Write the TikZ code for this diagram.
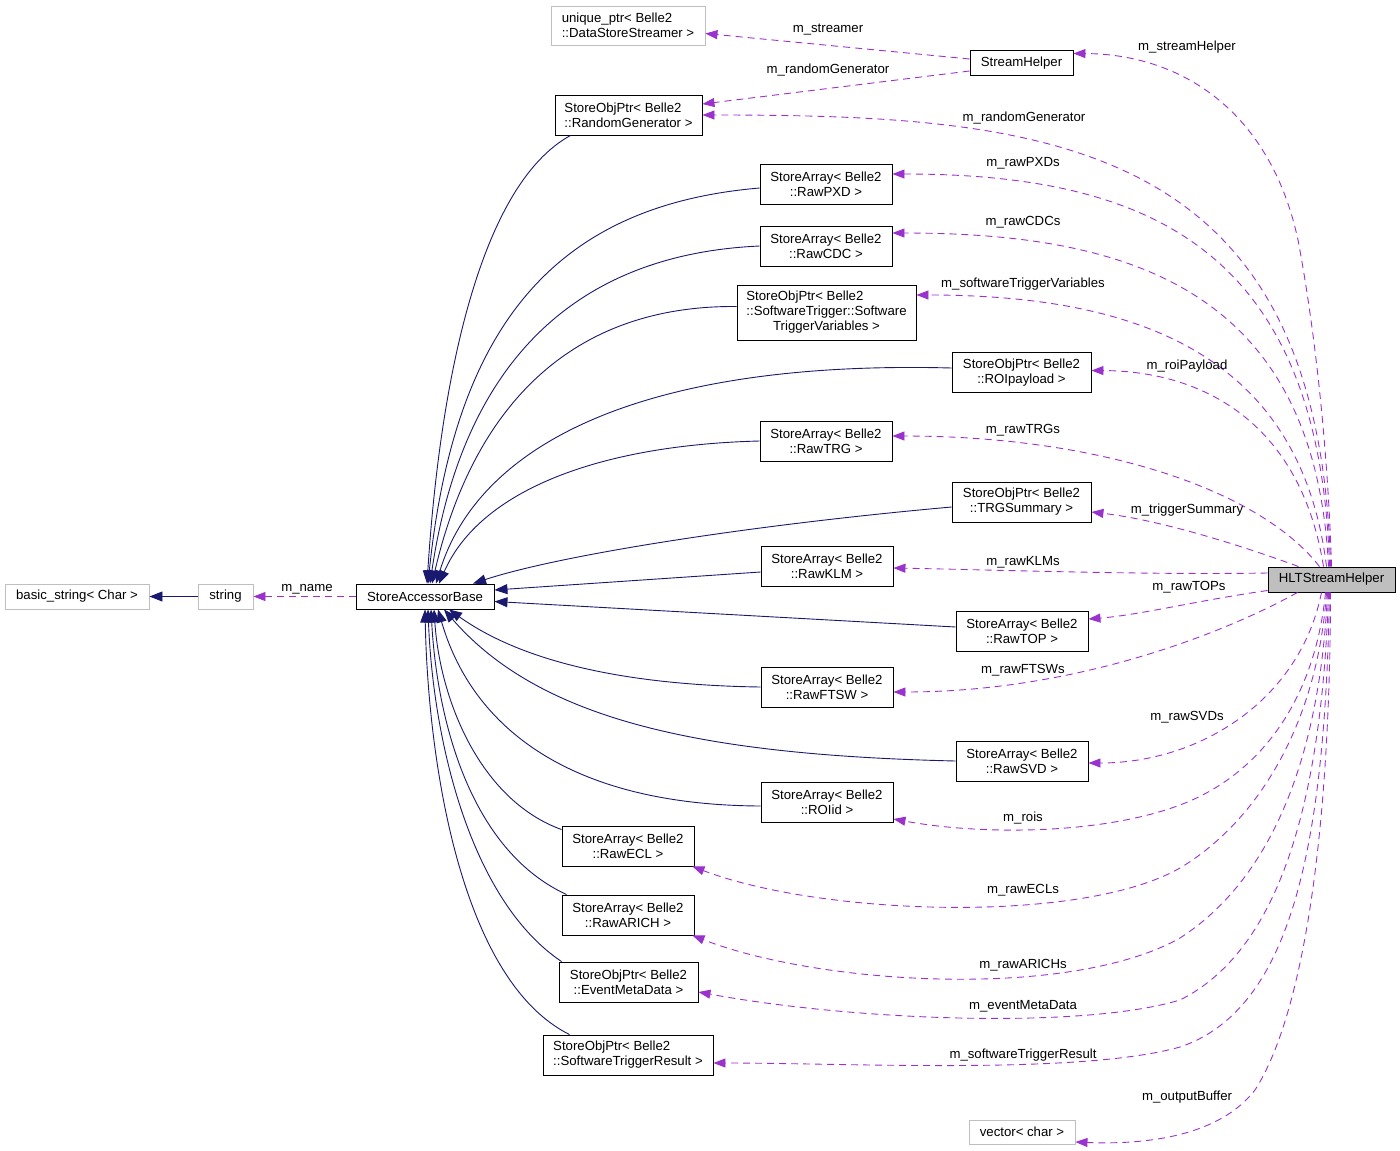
\documentclass[tikz,border=0pt]{standalone}
\usepackage{fontspec}
\setmainfont{Liberation Sans}
\usetikzlibrary{arrows.meta}
\definecolor{inhc}{HTML}{191970}
\definecolor{usec}{HTML}{9A32CD}
\definecolor{extc}{HTML}{BFBFBF}
\begin{document}
\begin{tikzpicture}[x=1pt,y=-1pt,
  font=\fontsize{13.2}{15}\selectfont,
  cls/.style={draw=black, line width=0.9pt, fill=white, inner sep=0pt, align=center},
  clsl/.style={cls, align=left},
  ext/.style={cls, draw=extc},
  extl/.style={ext, align=left},
  mainc/.style={cls, fill=extc},
  inh/.style={draw=inhc, line width=0.9pt, -{Triangle[length=13pt,width=10pt]}},
  usage/.style={draw=usec, line width=0.9pt, dash pattern=on 7pt off 5pt, -{Triangle[length=12pt,width=9pt]}},
  lbl/.style={inner sep=0pt}]
\useasboundingbox (0,0) rectangle (1400,1151);

% ---------- nodes ----------
\node[extl, minimum width=154pt, minimum height=39pt] (uptr) at (628,25.5) {unique\_ptr< Belle2\\::DataStoreStreamer >};
\node[cls, minimum width=103pt, minimum height=25pt] (sh) at (1021.5,63) {StreamHelper};
\node[clsl, minimum width=147pt, minimum height=40pt] (rg) at (628.5,115) {StoreObjPtr< Belle2\\::RandomGenerator >};
\node[cls, minimum width=132pt, minimum height=40pt] (pxd) at (826,184) {StoreArray< Belle2\\::RawPXD >};
\node[cls, minimum width=132pt, minimum height=40pt] (cdc) at (826,246) {StoreArray< Belle2\\::RawCDC >};
\node[cls, minimum width=179pt, minimum height=55pt] (stv) at (826.5,312.5) {\makebox[0pt][l]{StoreObjPtr< Belle2}\phantom{::SoftwareTrigger::Software}\\::SoftwareTrigger::Software\\TriggerVariables >};
\node[cls, minimum width=139pt, minimum height=40pt] (roi) at (1021.5,372.5) {StoreObjPtr< Belle2\\::ROIpayload >};
\node[cls, minimum width=132pt, minimum height=40pt] (trg) at (826,441) {StoreArray< Belle2\\::RawTRG >};
\node[cls, minimum width=139pt, minimum height=40pt] (trgs) at (1021.5,502) {StoreObjPtr< Belle2\\::TRGSummary >};
\node[cls, minimum width=132pt, minimum height=40pt] (klm) at (827,566) {StoreArray< Belle2\\::RawKLM >};
\node[cls, minimum width=132pt, minimum height=40pt] (top) at (1022,631) {StoreArray< Belle2\\::RawTOP >};
\node[cls, minimum width=132pt, minimum height=40pt] (ftsw) at (827,687) {StoreArray< Belle2\\::RawFTSW >};
\node[cls, minimum width=132pt, minimum height=40pt] (svd) at (1022,761) {StoreArray< Belle2\\::RawSVD >};
\node[cls, minimum width=132pt, minimum height=40pt] (roiid) at (827,802) {StoreArray< Belle2\\::ROIid >};
\node[cls, minimum width=132pt, minimum height=40pt] (ecl) at (628,846) {StoreArray< Belle2\\::RawECL >};
\node[cls, minimum width=132pt, minimum height=40pt] (arich) at (628,915) {StoreArray< Belle2\\::RawARICH >};
\node[cls, minimum width=139pt, minimum height=40pt] (emd) at (628.5,982) {StoreObjPtr< Belle2\\::EventMetaData >};
\node[clsl, minimum width=170pt, minimum height=40pt] (str) at (628,1055) {StoreObjPtr< Belle2\\::SoftwareTriggerResult >};
\node[mainc, minimum width=127pt, minimum height=25pt] (hlt) at (1331.5,579.5) {HLTStreamHelper};
\node[cls, minimum width=138pt, minimum height=25pt] (sab) at (425,596.5) {StoreAccessorBase};
\node[ext, minimum width=55pt, minimum height=25pt] (string) at (225.5,596.5) {string};
\node[ext, minimum width=144pt, minimum height=25pt] (bstr) at (77,596.5) {basic\_string< Char >};
\node[ext, minimum width=106pt, minimum height=24pt] (vec) at (1022,1132) {vector< char >};

% ---------- inheritance (blue) ----------
\draw[inh] (string.west) -- (bstr.east);
\draw[inh] ([xshift=-58pt]rg.south) .. controls (480,185) and (440,380) .. ([xshift=2pt]sab.north);
\draw[inh] ([yshift=-4pt]pxd.west) .. controls (560,205) and (455,320) .. ([xshift=3pt]sab.north);
\draw[inh] (cdc.west) .. controls (560,255) and (460,380) .. ([xshift=5pt]sab.north);
\draw[inh] ([yshift=6pt]stv.west) .. controls (560,305) and (470,420) .. ([xshift=7pt]sab.north);
\draw[inh] ([yshift=4.5pt]roi.west) .. controls (650,360) and (480,440) .. ([xshift=11pt]sab.north);
\draw[inh] (trg.west) .. controls (600,445) and (480,490) .. ([xshift=14pt]sab.north);
\draw[inh] ([yshift=-5pt]trgs.west) .. controls (750,525) and (560,555) .. ([xshift=48pt]sab.north);
\draw[inh] ([yshift=-6pt]klm.west) -- ([yshift=6.5pt]sab.east);
\draw[inh] ([yshift=4pt]top.west) -- ([yshift=-5pt]sab.east);
\draw[inh] (ftsw.west) .. controls (620,685) and (520,660) .. ([xshift=24pt]sab.south);
\draw[inh] (svd.west) .. controls (700,755) and (540,720) .. ([xshift=19pt]sab.south);
\draw[inh] ([yshift=-4pt]roiid.west) .. controls (560,805) and (470,720) .. ([xshift=13pt]sab.south);
\draw[inh] ([yshift=-4pt]ecl.north west) .. controls (480,800) and (440,700) .. ([xshift=9pt]sab.south);
\draw[inh] ([xshift=5pt]arich.north west) .. controls (470,850) and (437,720) .. ([xshift=6pt]sab.south);
\draw[inh] ([xshift=3pt]emd.north west) .. controls (470,900) and (433,740) .. ([xshift=3pt]sab.south);
\draw[inh] ([xshift=27pt]str.north west) .. controls (460,980) and (428,760) .. (sab.south);

% ---------- usage (purple dashed) ----------
\draw[usage] (sab.west) -- (string.east);
\draw[usage] ([yshift=4pt]sh.west) -- ([yshift=-8pt]uptr.east);
\draw[usage] ([yshift=-8pt]sh.west) -- ([yshift=11pt]rg.east);
\draw[usage] (hlt.north) .. controls (1328,450) and (1315,330) .. (1298,240) .. controls (1270,110) and (1180,54) .. ([yshift=9.5pt]sh.east);
\draw[usage] ([xshift=-1pt]hlt.north) .. controls (1320,140) and (1050,115) .. (rg.east);
\draw[usage] ([xshift=-2pt]hlt.north) .. controls (1320,250) and (1150,174) .. ([yshift=10pt]pxd.east);
\draw[usage] ([xshift=-3pt]hlt.north) .. controls (1315,290) and (1130,233) .. ([yshift=13pt]cdc.east);
\draw[usage] ([xshift=-5pt]hlt.north) .. controls (1300,350) and (1130,295) .. ([yshift=17.5pt]stv.east);
\draw[usage] ([xshift=-8pt]hlt.north) .. controls (1300,420) and (1200,371) .. ([yshift=2pt]roi.east);
\draw[usage] ([xshift=-12pt]hlt.north) .. controls (1260,490) and (1100,436) .. ([yshift=5pt]trg.east);
\draw[usage] ([xshift=-33pt]hlt.north) .. controls (1240,545) and (1160,520) .. ([yshift=-10pt]trgs.east);
\draw[usage] ([yshift=6.5pt]hlt.west) .. controls (1150,575) and (1000,570) .. ([yshift=-2pt]klm.east);
\draw[usage] ([yshift=-11pt]hlt.west) .. controls (1200,600) and (1140,615) .. ([yshift=12pt]top.east);
\draw[usage] ([xshift=-34pt]hlt.south) .. controls (1230,630) and (1080,692) .. ([yshift=-5pt]ftsw.east);
\draw[usage] ([xshift=-10pt]hlt.south) .. controls (1300,700) and (1200,763) .. ([yshift=-2pt]svd.east);
\draw[usage] ([xshift=-6pt]hlt.south) .. controls (1315,700) and (1260,775) .. (1180,805) .. controls (1100,835) and (980,835) .. ([yshift=-17pt]roiid.east);
\draw[usage] ([xshift=-5pt]hlt.south) .. controls (1318,720) and (1260,820) .. (1180,868) .. controls (1080,925) and (820,915) .. ([xshift=-2pt]ecl.south east);
\draw[usage] ([xshift=-4pt]hlt.south) .. controls (1320,760) and (1270,880) .. (1180,938) .. controls (1070,1000) and (820,985) .. ([xshift=-2pt]arich.south east);
\draw[usage] ([xshift=-3pt]hlt.south) .. controls (1322,800) and (1280,950) .. (1180,1000) .. controls (1080,1030) and (850,1020) .. ([yshift=-10pt]emd.east);
\draw[usage] ([xshift=-2pt]hlt.south) .. controls (1325,850) and (1290,1010) .. (1180,1047) .. controls (1080,1075) and (850,1063) .. ([yshift=-8pt]str.east);
\draw[usage] ([xshift=-1pt]hlt.south) .. controls (1330,850) and (1300,1020) .. (1255,1090) .. controls (1220,1135) and (1150,1145) .. ([yshift=-10pt]vec.east);

% ---------- labels ----------
\node[lbl] (l1) at (828,30) {m\_streamer};
\node[lbl] (l2) at (828,70) {m\_randomGenerator};
\node[lbl] (l3) at (1187,47) {m\_streamHelper};
\node[lbl] (l4) at (1024,118) {m\_randomGenerator};
\node[lbl] (l5) at (1023,163) {m\_rawPXDs};
\node[lbl] (l6) at (1023,222) {m\_rawCDCs};
\node[lbl] (l7) at (1023,284) {m\_softwareTriggerVariables};
\node[lbl] (l8) at (1187,366) {m\_roiPayload};
\node[lbl] (l9) at (1023,430) {m\_rawTRGs};
\node[lbl] (l10) at (1187,510) {m\_triggerSummary};
\node[lbl] (l11) at (1023,562) {m\_rawKLMs};
\node[lbl] (l12) at (1189,587) {m\_rawTOPs};
\node[lbl] (l13) at (1023,670) {m\_rawFTSWs};
\node[lbl] (l14) at (1187,717) {m\_rawSVDs};
\node[lbl] (l15) at (1023,818) {m\_rois};
\node[lbl] (l16) at (1023,890) {m\_rawECLs};
\node[lbl] (l17) at (1023,965) {m\_rawARICHs};
\node[lbl] (l18) at (1023,1006) {m\_eventMetaData};
\node[lbl] (l19) at (1023,1055) {m\_softwareTriggerResult};
\node[lbl] (l20) at (1187,1097) {m\_outputBuffer};
\node[lbl] (l21) at (307,589) {m\_name};
\end{tikzpicture}
\end{document}
